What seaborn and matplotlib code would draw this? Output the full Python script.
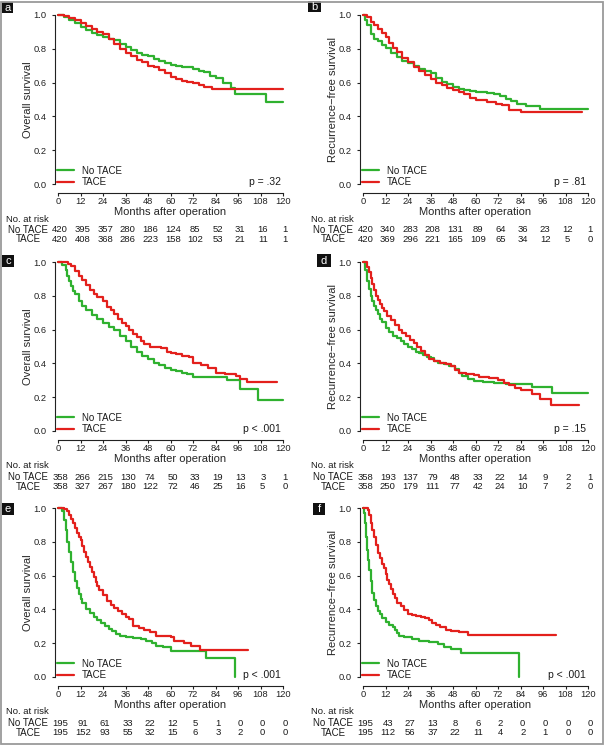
import matplotlib
matplotlib.use("Agg")
import matplotlib.pyplot as plt
from matplotlib.patches import Rectangle
from matplotlib import transforms
import seaborn as sns

GREEN = "#2fb12f"
RED = "#e3201c"

MONTHS = [0, 12, 24, 36, 48, 60, 72, 84, 96, 108, 120]
GROUPS = ["No TACE", "TACE"]

# panel a - overall survival
a_no_t = [0, 3, 6, 9, 12, 15, 18, 21, 24, 27, 30, 33, 36, 39, 42, 45, 48, 51, 54, 57, 60, 63, 66, 69, 72, 75, 78, 81, 84, 88, 92.5, 94.5, 110.8, 120]
a_no_s = [1.0, 0.99, 0.97, 0.95, 0.93, 0.91, 0.895, 0.88, 0.87, 0.86, 0.85, 0.83, 0.81, 0.79, 0.775, 0.765, 0.755, 0.74, 0.73, 0.715, 0.705, 0.70, 0.695, 0.69, 0.68, 0.67, 0.66, 0.64, 0.625, 0.60, 0.57, 0.53, 0.485, 0.485]
a_ta_t = [0, 3, 6, 9, 12, 15, 18, 21, 24, 27, 30, 33, 36, 39, 42, 45, 48, 51, 54, 57, 60, 63, 66, 69, 72, 75, 78, 82, 120]
a_ta_s = [1.0, 0.995, 0.985, 0.97, 0.955, 0.935, 0.915, 0.90, 0.885, 0.86, 0.83, 0.80, 0.775, 0.755, 0.735, 0.72, 0.70, 0.69, 0.675, 0.655, 0.635, 0.62, 0.61, 0.605, 0.595, 0.585, 0.575, 0.565, 0.565]
a_risk_no = [420, 395, 357, 280, 186, 124, 85, 52, 31, 16, 1]
a_risk_ta = [420, 408, 368, 286, 223, 158, 102, 53, 21, 11, 1]

# panel b - recurrence-free survival
b_no_t = [0, 1, 2, 4, 6, 8, 10, 12, 15, 18, 21, 24, 27, 30, 33, 36, 39, 42, 45, 48, 51, 54, 57, 60, 66, 70, 73, 76, 79, 82, 87, 94.5, 120]
b_no_s = [1.0, 0.97, 0.94, 0.89, 0.86, 0.845, 0.825, 0.805, 0.775, 0.75, 0.73, 0.715, 0.70, 0.68, 0.67, 0.655, 0.63, 0.605, 0.59, 0.575, 0.565, 0.555, 0.55, 0.545, 0.54, 0.535, 0.52, 0.505, 0.49, 0.475, 0.46, 0.445, 0.445]
b_ta_t = [0, 2, 4, 6, 8, 10, 12, 14, 16, 18, 21, 24, 27, 30, 33, 36, 39, 42, 45, 48, 51, 54, 57, 60, 66, 71, 74, 78, 84, 117]
b_ta_s = [1.0, 0.99, 0.96, 0.94, 0.92, 0.895, 0.87, 0.835, 0.805, 0.78, 0.745, 0.72, 0.695, 0.67, 0.645, 0.62, 0.60, 0.585, 0.57, 0.555, 0.545, 0.53, 0.51, 0.495, 0.485, 0.475, 0.465, 0.44, 0.425, 0.425]
b_risk_no = [420, 340, 283, 208, 131, 89, 64, 36, 23, 12, 1]
b_risk_ta = [420, 369, 296, 221, 165, 109, 65, 34, 12, 5, 0]

# panel c - overall survival
c_no_t = [0, 2, 4, 5, 6, 7, 8, 9, 11, 13, 15, 18, 21, 24, 27, 30, 33, 36, 39, 42, 45, 48, 51, 54, 57, 60, 63, 66, 69, 72, 90, 97, 106.7, 120]
c_no_s = [1.0, 0.98, 0.95, 0.92, 0.89, 0.86, 0.83, 0.81, 0.77, 0.74, 0.715, 0.685, 0.66, 0.64, 0.615, 0.595, 0.565, 0.53, 0.50, 0.47, 0.445, 0.425, 0.405, 0.39, 0.375, 0.36, 0.355, 0.345, 0.335, 0.32, 0.30, 0.25, 0.185, 0.185]
c_ta_t = [0, 5.5, 7, 9, 11, 13, 15, 17, 19, 21, 24, 26, 28, 30, 32, 34, 36, 38, 40, 42, 44, 46, 49, 52, 55, 58, 60, 63, 66, 70, 72, 76, 80, 84, 89, 95, 97, 101, 117]
c_ta_s = [1.0, 0.99, 0.975, 0.945, 0.915, 0.895, 0.865, 0.835, 0.81, 0.79, 0.77, 0.735, 0.715, 0.69, 0.665, 0.64, 0.62, 0.595, 0.575, 0.555, 0.535, 0.515, 0.50, 0.495, 0.49, 0.47, 0.46, 0.455, 0.445, 0.44, 0.405, 0.39, 0.37, 0.345, 0.335, 0.325, 0.31, 0.29, 0.29]
c_risk_no = [358, 266, 215, 130, 74, 50, 33, 19, 13, 3, 1]
c_risk_ta = [358, 327, 267, 180, 122, 72, 46, 25, 16, 5, 0]

# panel d - recurrence-free survival
d_no_t = [0, 1, 2, 3, 4, 5, 6, 7, 8, 9, 10, 12, 14, 16, 18, 20, 22, 24, 26, 28, 30, 32, 34, 36, 38, 40, 43, 46, 49, 51, 53, 56, 59, 64, 70, 76, 90, 101, 120]
d_no_s = [1.0, 0.95, 0.89, 0.84, 0.80, 0.77, 0.74, 0.715, 0.69, 0.665, 0.645, 0.61, 0.585, 0.565, 0.55, 0.53, 0.515, 0.50, 0.485, 0.47, 0.46, 0.45, 0.44, 0.43, 0.415, 0.405, 0.395, 0.385, 0.365, 0.345, 0.325, 0.31, 0.295, 0.29, 0.285, 0.28, 0.26, 0.225, 0.225]
d_ta_t = [0, 2, 3, 4, 5, 6, 7, 8, 9, 10, 11, 13, 15, 17, 19, 21, 23, 25, 27, 29, 31, 33, 35, 38, 41, 44, 47, 49, 51, 55, 59, 62, 67, 72, 75, 78, 81, 84, 90, 94.5, 100, 115]
d_ta_s = [1.0, 0.97, 0.94, 0.905, 0.87, 0.835, 0.80, 0.775, 0.75, 0.73, 0.71, 0.68, 0.655, 0.625, 0.60, 0.58, 0.56, 0.54, 0.52, 0.50, 0.475, 0.45, 0.425, 0.415, 0.405, 0.395, 0.385, 0.36, 0.345, 0.34, 0.33, 0.32, 0.315, 0.30, 0.285, 0.27, 0.255, 0.24, 0.22, 0.19, 0.155, 0.155]
d_risk_no = [358, 193, 137, 79, 48, 33, 22, 14, 9, 2, 1]
d_risk_ta = [358, 250, 179, 111, 77, 42, 24, 10, 7, 2, 0]

# panel e - overall survival
e_no_t = [0, 2, 3, 4, 5, 6, 7, 8, 9, 10, 11, 12, 13, 15, 17, 19, 21, 23, 25, 27, 29, 31, 33, 36, 40, 44, 47, 50, 52, 56, 60, 79, 94.5]
e_no_s = [1.0, 0.98, 0.93, 0.87, 0.80, 0.74, 0.68, 0.62, 0.57, 0.525, 0.49, 0.46, 0.435, 0.405, 0.38, 0.355, 0.335, 0.32, 0.30, 0.285, 0.27, 0.255, 0.245, 0.235, 0.23, 0.225, 0.215, 0.20, 0.185, 0.175, 0.155, 0.115, 0.0]
e_ta_t = [0, 3, 5, 6, 7, 8, 9, 10, 11, 12, 13, 14, 15, 16, 17, 18, 19, 20, 21, 22, 24, 26, 28, 30, 32, 34, 36, 38, 40, 43, 46, 49, 52, 55, 60, 62, 67, 71, 75.5, 101.5]
e_ta_s = [1.0, 0.995, 0.98, 0.96, 0.935, 0.91, 0.88, 0.855, 0.83, 0.81, 0.775, 0.74, 0.71, 0.68, 0.65, 0.62, 0.59, 0.565, 0.54, 0.515, 0.485, 0.45, 0.425, 0.41, 0.39, 0.37, 0.355, 0.345, 0.30, 0.29, 0.28, 0.265, 0.245, 0.24, 0.235, 0.215, 0.20, 0.185, 0.16, 0.16]
e_risk_no = [195, 91, 61, 33, 22, 12, 5, 1, 0, 0, 0]
e_risk_ta = [195, 152, 93, 55, 32, 15, 6, 3, 2, 0, 0]

# panel f - recurrence-free survival
f_no_t = [0, 0.5, 1, 1.5, 2, 2.5, 3, 4, 5, 6, 7, 8, 9, 10, 12, 14, 16, 17, 18, 19, 22, 26, 30, 35, 40, 43, 47, 52, 83]
f_no_s = [1.0, 0.97, 0.91, 0.83, 0.75, 0.69, 0.635, 0.57, 0.50, 0.455, 0.42, 0.39, 0.37, 0.35, 0.325, 0.305, 0.295, 0.28, 0.26, 0.245, 0.235, 0.225, 0.215, 0.205, 0.195, 0.18, 0.165, 0.14, 0.0]
f_ta_t = [0, 2.5, 3, 4, 5, 6, 7, 8, 9, 10, 11, 12, 13, 14, 15, 16, 17, 18, 20, 22, 24, 26, 28, 31, 33, 35, 37, 39, 41, 44, 47, 51, 56, 103]
f_ta_s = [1.0, 0.99, 0.96, 0.91, 0.87, 0.83, 0.78, 0.735, 0.705, 0.67, 0.645, 0.61, 0.575, 0.55, 0.52, 0.49, 0.465, 0.44, 0.42, 0.395, 0.375, 0.365, 0.36, 0.355, 0.35, 0.335, 0.32, 0.31, 0.295, 0.28, 0.27, 0.265, 0.25, 0.25]
f_risk_no = [195, 43, 27, 13, 8, 6, 2, 0, 0, 0, 0]
f_risk_ta = [195, 112, 56, 37, 22, 11, 4, 2, 1, 0, 0]

sns.set_style("ticks")
plt.rcParams["font.family"] = ["Liberation Sans", "DejaVu Sans"]
plt.rcParams["text.color"] = "#1a1a1a"

W, H = 605, 745
fig = plt.figure(figsize=(W / 100, H / 100), dpi=100)
PW, PH = 225, 169


def draw_panel(x0, top, letter, box, ylabel, no_t, no_s, ta_t, ta_s, risk_no, risk_ta, pval):
    y0 = top + 184
    ax = fig.add_axes([x0 / W, 1 - y0 / H, PW / W, PH / H])
    sns.lineplot(x=no_t, y=no_s, drawstyle="steps-post", color=GREEN, linewidth=1.6,
                 estimator=None, sort=False, ax=ax)
    sns.lineplot(x=ta_t, y=ta_s, drawstyle="steps-post", color=RED, linewidth=1.6,
                 estimator=None, sort=False, ax=ax)
    for ln in ax.lines:
        ln.set_clip_on(False)
    ax.set_xlim(0, 120)
    ax.set_ylim(0, 1)
    ax.set_xticks(MONTHS)
    ax.set_xticklabels([str(m) for m in MONTHS])
    ax.set_yticks([0, 0.2, 0.4, 0.6, 0.8, 1.0])
    ax.set_yticklabels(["0.0", "0.2", "0.4", "0.6", "0.8", "1.0"], rotation=90, va="center")
    sns.despine(ax=ax)
    ax.spines["left"].set_position(("outward", 2.2))
    ax.spines["bottom"].set_position(("outward", 6.5))
    for s in ["left", "bottom"]:
        ax.spines[s].set_linewidth(0.8)
        ax.spines[s].set_color("#222222")
    ax.tick_params(axis="x", length=2.5, width=0.8, labelsize=6.7, pad=0.5, colors="#222222")
    ax.tick_params(axis="y", length=2.5, width=0.8, labelsize=6.7, pad=3.5, colors="#222222")

    ax.set_xlabel("Months after operation", fontsize=8)
    ax.xaxis.label.set_va("center")
    ax.xaxis.set_label_coords(0.5, -28 / PH)
    ax.set_ylabel(ylabel, fontsize=8)
    ax.yaxis.label.set_va("center")
    ax.yaxis.set_label_coords(-29.5 / PW, 0.5)

    ax.legend(ax.lines[:2], GROUPS, loc="lower left", bbox_to_anchor=(-1.5 / PW, -3 / PH),
              frameon=False, fontsize=7, handlelength=1.85, handletextpad=0.8,
              labelspacing=0.12, borderpad=0, borderaxespad=0)
    ax.text(1 - 2 / PW, 2.3 / PH, pval, transform=ax.transAxes, ha="right", va="center", fontsize=7.5)

    trans = transforms.blended_transform_factory(ax.transData, ax.transAxes)
    ax.text(-52 / PW, -35 / PH, "No. at risk", transform=ax.transAxes, ha="left", va="center", fontsize=6.8)
    for k, (grp, counts) in enumerate(zip(GROUPS, [risk_no, risk_ta])):
        yy = -(46 + 9.5 * k) / PH
        ax.text(-30 / PW, yy, grp, transform=ax.transAxes, ha="center", va="center", fontsize=7)
        for m, n in zip(MONTHS, counts):
            ax.text(m + 1.2, yy, str(n), transform=trans, ha="center", va="center", fontsize=6.8)

    bx, by, bw, bh = box
    fig.patches.append(Rectangle((bx / W, 1 - (by + bh) / H), bw / W, bh / H,
                                 transform=fig.transFigure, facecolor="#111111", edgecolor="none"))
    fig.text((bx + bw / 2) / W, 1 - (by + bh / 2 + 0.5) / H, letter, color="white",
             ha="center", va="center", fontsize=8)


OS = "Overall survival"
RFS = "Recurrence\u2212free survival"
draw_panel(58, 0, "a", (2, 2, 11, 11), OS, a_no_t, a_no_s, a_ta_t, a_ta_s, a_risk_no, a_risk_ta, "p = .32")
draw_panel(363, 0, "b", (308, 1, 13, 11), RFS, b_no_t, b_no_s, b_ta_t, b_ta_s, b_risk_no, b_risk_ta, "p = .81")
draw_panel(58, 247, "c", (2, 255, 12, 12), OS, c_no_t, c_no_s, c_ta_t, c_ta_s, c_risk_no, c_risk_ta, "p < .001")
draw_panel(363, 247, "d", (317, 254, 14, 13), RFS, d_no_t, d_no_s, d_ta_t, d_ta_s, d_risk_no, d_risk_ta, "p = .15")
draw_panel(58, 493, "e", (2, 503, 12, 12), OS, e_no_t, e_no_s, e_ta_t, e_ta_s, e_risk_no, e_risk_ta, "p < .001")
draw_panel(363, 493, "f", (313, 503, 12, 12), RFS, f_no_t, f_no_s, f_ta_t, f_ta_s, f_risk_no, f_risk_ta, "p < .001")

# outer frame
fig.patches.append(Rectangle((0.8 / W, 0.8 / H), (W - 2.6) / W, (H - 2.6) / H, transform=fig.transFigure,
                             facecolor="none", edgecolor="#9a9a9a", linewidth=1.3))

fig.savefig("out.png", dpi=100)
